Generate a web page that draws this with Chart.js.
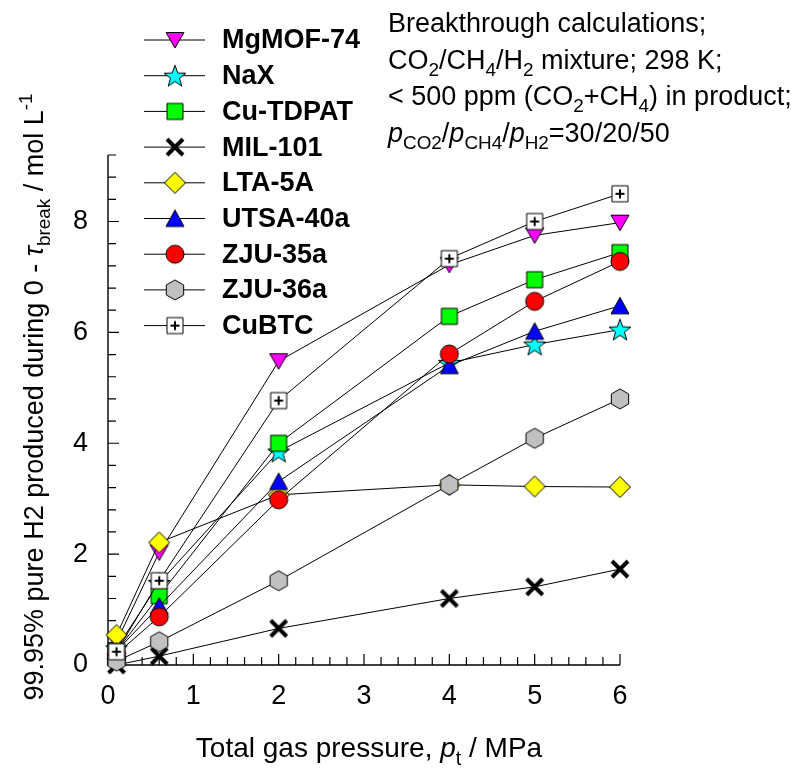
<!DOCTYPE html>
<html>
<head>
<meta charset="utf-8">
<title>99.95% pure H2 produced vs total gas pressure</title>
<script src="https://cdn.jsdelivr.net/npm/chart.js@4.4.1/dist/chart.umd.min.js"></script>
<style>
    body { margin: 0; background: #ffffff; }
    canvas { display: block; }
</style>
</head>
<body>
<canvas id="h2Chart" width="795" height="769"></canvas>
<script>
// Values (mol/L of 99.95% H2)
const pressures = [0.1, 0.6, 2, 4, 5, 6];
const materials = ['MgMOF-74', 'NaX', 'Cu-TDPAT', 'MIL-101', 'LTA-5A', 'UTSA-40a', 'ZJU-35a', 'ZJU-36a', 'CuBTC'];
const mgmof74 = [0.42, 2.03, 5.48, 7.22, 7.75, 7.98];
const nax = [0.30, 1.48, 3.85, 5.45, 5.78, 6.05];
const cuTdpat = [0.25, 1.25, 4.00, 6.29, 6.95, 7.44];
const mil101 = [0.00, 0.16, 0.66, 1.20, 1.41, 1.73];
const lta5a = [0.54, 2.21, 3.07, 3.25, 3.22, 3.21];
const utsa40a = [0.25, 1.06, 3.31, 5.40, 6.02, 6.48];
const zju35a = [0.20, 0.87, 2.98, 5.61, 6.56, 7.28];
const zju36a = [0.07, 0.42, 1.52, 3.25, 4.09, 4.80];
const cubtc = [0.24, 1.52, 4.77, 7.33, 8.00, 8.50];
const xTickLabels = [0, 1, 2, 3, 4, 5, 6];
const yTickLabels = [0, 2, 4, 6, 8];

const FONT = "'Liberation Sans', Arial, sans-serif";
const TEXT_SIZE = 27;

// Text with sub/superscripts
const noteLines = [
    [{ t: 'Breakthrough calculations;' }],
    [{ t: 'CO' }, { t: '2', sub: 1 }, { t: '/CH' }, { t: '4', sub: 1 }, { t: '/H' }, { t: '2', sub: 1 }, { t: ' mixture; 298 K;' }],
    [{ t: '< 500 ppm (CO' }, { t: '2', sub: 1 }, { t: '+CH' }, { t: '4', sub: 1 }, { t: ') in product;' }],
    [{ t: 'p', it: 1 }, { t: 'CO2', sub: 1 }, { t: '/' }, { t: 'p', it: 1 }, { t: 'CH4', sub: 1 }, { t: '/' }, { t: 'p', it: 1 }, { t: 'H2', sub: 1 }, { t: '=30/20/50' }]
];
const yTitle = [{ t: '99.95% pure H2 produced during 0 - ' }, { t: 'τ', it: 1 }, { t: 'break', sub: 1 }, { t: ' / mol L' }, { t: '-1', sup: 1 }];
const xTitle = [{ t: 'Total gas pressure, ' }, { t: 'p', it: 1 }, { t: 't', sub: 1 }, { t: ' / MPa' }];

// Build marker images for the point styles
function makeMarker(shape, fill) {
    const size = 28;
    const c = document.createElement('canvas');
    c.width = size;
    c.height = size;
    const g = c.getContext('2d');
    g.translate(size / 2, size / 2);
    g.fillStyle = fill;
    g.strokeStyle = '#000';
    g.lineWidth = 1;
    g.beginPath();
    if (shape === 'triangleDown') {
        g.moveTo(-9, -7.5); g.lineTo(9, -7.5); g.lineTo(0, 8); g.closePath();
    } else if (shape === 'triangleUp') {
        g.moveTo(-9, 8); g.lineTo(9, 8); g.lineTo(0, -8.5); g.closePath();
    } else if (shape === 'star') {
        for (let k = 0; k < 10; k++) {
            const r = k % 2 ? 4.7 : 11.5;
            const a = -Math.PI / 2 + k * Math.PI / 5;
            const px = r * Math.cos(a), py = r * Math.sin(a) + 1;
            if (k === 0) g.moveTo(px, py); else g.lineTo(px, py);
        }
        g.closePath();
    } else if (shape === 'square' || shape === 'plusSquare') {
        g.rect(-8, -8, 16, 16);
    } else if (shape === 'diamond') {
        g.moveTo(0, -10.5); g.lineTo(10.5, 0); g.lineTo(0, 10.5); g.lineTo(-10.5, 0); g.closePath();
    } else if (shape === 'circle') {
        g.arc(0, 0, 9, 0, Math.PI * 2);
    } else if (shape === 'hexagon') {
        for (let k = 0; k < 6; k++) {
            const a = -Math.PI / 2 + k * Math.PI / 3;
            if (k === 0) g.moveTo(10 * Math.cos(a), 10 * Math.sin(a));
            else g.lineTo(10 * Math.cos(a), 10 * Math.sin(a));
        }
        g.closePath();
    }
    if (shape === 'cross') {
        g.lineWidth = 4;
        g.moveTo(-8, -8); g.lineTo(8, 8);
        g.moveTo(8, -8); g.lineTo(-8, 8);
        g.stroke();
        return c;
    }
    g.fill();
    g.stroke();
    if (shape === 'plusSquare') {
        g.beginPath();
        g.lineWidth = 2;
        g.moveTo(-4.5, 0); g.lineTo(4.5, 0);
        g.moveTo(0, -4.5); g.lineTo(0, 4.5);
        g.stroke();
    }
    return c;
}

const seriesValues = [mgmof74, nax, cuTdpat, mil101, lta5a, utsa40a, zju35a, zju36a, cubtc];
const markers = [
    makeMarker('triangleDown', '#ff00ff'),
    makeMarker('star', '#00ffff'),
    makeMarker('square', '#00ff00'),
    makeMarker('cross', '#000000'),
    makeMarker('diamond', '#ffff00'),
    makeMarker('triangleUp', '#0000ff'),
    makeMarker('circle', '#ff0000'),
    makeMarker('hexagon', '#c0c0c0'),
    makeMarker('plusSquare', '#ffffff')
];

function isLabel(list, v) {
    return list.find(t => Math.abs(t - v) < 1e-6);
}

// Draw a run of text pieces, returns the width (skips drawing if measureOnly)
function drawRich(g, parts, x, y, size, measureOnly) {
    let cx = x;
    parts.forEach(p => {
        const small = p.sub || p.sup;
        const fs = small ? size * 0.7 : size;
        g.font = (p.it ? 'italic ' : '') + fs + 'px ' + FONT;
        const dy = p.sub ? size * 0.27 : (p.sup ? -size * 0.42 : 0);
        if (!measureOnly) g.fillText(p.t, cx, y + dy);
        cx += g.measureText(p.t).width;
    });
    return cx - x;
}

// Axes with inward ticks, titles, note and legend
const decorPlugin = {
    id: 'decor',
    beforeDatasetsDraw(chart) {
        const g = chart.ctx;
        const xs = chart.scales.x;
        const ys = chart.scales.y;
        const left = xs.getPixelForValue(0);
        const bottom = ys.getPixelForValue(0);
        g.save();
        g.strokeStyle = '#000';
        g.lineWidth = 1.4;
        g.beginPath();
        g.moveTo(left, ys.getPixelForValue(ys.max));
        g.lineTo(left, bottom);
        g.lineTo(xs.getPixelForValue(xs.max), bottom);
        g.stroke();
        g.lineWidth = 1.2;
        g.beginPath();
        ys.ticks.forEach(t => {
            const py = ys.getPixelForValue(t.value);
            const len = isLabel(yTickLabels, t.value) !== undefined ? 11 : 8;
            g.moveTo(left, py);
            g.lineTo(left + len, py);
        });
        xs.ticks.forEach(t => {
            const px = xs.getPixelForValue(t.value);
            const len = isLabel(xTickLabels, t.value) !== undefined ? 11 : 8;
            g.moveTo(px, bottom);
            g.lineTo(px, bottom - len);
        });
        g.stroke();
        g.restore();
    },
    afterDraw(chart) {
        const g = chart.ctx;
        g.save();
        g.fillStyle = '#000';
        g.textBaseline = 'alphabetic';
        g.textAlign = 'left';

        // note in the top right
        noteLines.forEach((line, i) => {
            drawRich(g, line, 388, 32 + i * 36.5, TEXT_SIZE);
        });

        // x title
        const xw = drawRich(g, xTitle, 0, 0, 28, true);
        drawRich(g, xTitle, 369 - xw / 2, 757, 28);

        // y title
        const yw = drawRich(g, yTitle, 0, 0, TEXT_SIZE, true);
        g.save();
        g.translate(43, 397);
        g.rotate(-Math.PI / 2);
        drawRich(g, yTitle, -yw / 2, 0, TEXT_SIZE);
        g.restore();

        // legend
        materials.forEach((name, i) => {
            const ry = 40 + i * 35.7;
            g.strokeStyle = '#000';
            g.lineWidth = 1;
            g.beginPath();
            g.moveTo(144, ry);
            g.lineTo(205, ry);
            g.stroke();
            const img = markers[i];
            g.drawImage(img, 175 - img.width / 2, ry - img.height / 2);
            g.font = 'bold ' + TEXT_SIZE + 'px ' + FONT;
            g.textBaseline = 'middle';
            g.fillText(name, 222, ry + 1);
            g.textBaseline = 'alphabetic';
        });
        g.restore();
    }
};

// Initialize H2 Production Chart
const ctx = document.getElementById('h2Chart').getContext('2d');
const h2Chart = new Chart(ctx, {
    type: 'line',
    data: {
        datasets: seriesValues.map((vals, i) => ({
            label: materials[i],
            data: pressures.map((p, j) => ({ x: p, y: vals[j] })),
            borderColor: '#000',
            borderWidth: 1,
            pointStyle: markers[i],
            pointRadius: 10,
            pointHoverRadius: 10,
            fill: false,
            tension: 0,
            clip: false,
            order: materials.length - i
        }))
    },
    options: {
        responsive: false,
        animation: false,
        events: [],
        layout: {
            padding: { top: 155, right: 175, left: 0, bottom: 0 }
        },
        plugins: {
            legend: { display: false },
            tooltip: { enabled: false }
        },
        scales: {
            x: {
                type: 'linear',
                min: 0,
                max: 6,
                grid: { display: false },
                border: { display: false },
                ticks: {
                    stepSize: 0.2,
                    autoSkip: false,
                    maxRotation: 0,
                    maxTicksLimit: 100,
                    padding: 7,
                    color: '#000',
                    font: { family: FONT, size: TEXT_SIZE },
                    callback: value => {
                        const lab = isLabel(xTickLabels, value);
                        return lab === undefined ? '' : String(lab);
                    }
                },
                afterFit: scale => { scale.height = 104; }
            },
            y: {
                type: 'linear',
                min: 0,
                max: 9.2,
                grid: { display: false },
                border: { display: false },
                ticks: {
                    stepSize: 0.4,
                    autoSkip: false,
                    maxTicksLimit: 100,
                    padding: 12,
                    color: '#000',
                    font: { family: FONT, size: TEXT_SIZE },
                    callback: value => {
                        const lab = isLabel(yTickLabels, value);
                        return lab === undefined ? '' : String(lab);
                    }
                },
                afterFit: scale => { scale.width = 108; }
            }
        }
    },
    plugins: [decorPlugin]
});
</script>
</body>
</html>
